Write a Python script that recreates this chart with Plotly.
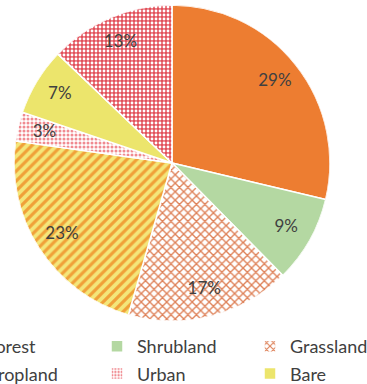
import plotly.graph_objects as go

categories = ["Forest", "Shrubland", "Grassland", "Cropland", "Urban", "Bare", "Water"]
shares = [29, 9, 17, 23, 3, 7, 13]
legend_column = ["legend", "legend2", "legend3", "legend", "legend2", "legend3", "legend"]

colors = ["#ED7D31", "#B4D8A2", "#FFFFFF", "#F4E67A", "#FFFFFF", "#ECE56C", "#E2505A"]
pat_shapes = ["", "", "x", "/", ".", "", "."]
pat_fg = ["#ED7D31", "#B4D8A2", "#DE8158", "#F0A038", "#F08A90", "#ECE56C", "#FFFFFF"]
pat_size = [8, 8, 6, 7, 4, 8, 4]
pat_sol = [0.3, 0.3, 0.4, 0.45, 0.45, 0.3, 0.4]

W, H = 367, 384
cx, cy, R = 172, 163, 158
dom_x = [(cx - R) / W, (cx + R) / W]
dom_y = [(H - cy - R) / H, (H - cy + R) / H]

total = sum(shares)
mids, widths, acc = [], [], 0
for v in shares:
    mids.append((acc + v / 2) / total * 360)
    widths.append(v / total * 360)
    acc += v

fig = go.Figure()
for i, name in enumerate(categories):
    fig.add_trace(go.Barpolar(
        name=name, r=[1], theta=[mids[i]], width=[widths[i]],
        legend=legend_column[i], legendgroup=name,
        marker=dict(color=colors[i], line=dict(color="white", width=1.5),
                    pattern=dict(shape=pat_shapes[i], fgcolor=pat_fg[i], bgcolor=colors[i],
                                 size=pat_size[i], solidity=pat_sol[i], fillmode="replace")),
        hovertemplate=f"{name}: {shares[i]}%<extra></extra>",
    ))

fig.add_trace(go.Scatterpolar(
    r=[0.83] * len(shares), theta=mids, mode="text",
    text=[f"{v}%" for v in shares],
    textfont=dict(family="Lato, sans-serif", size=17, color="#404040"),
    showlegend=False, hoverinfo="skip",
))

leg_common = dict(orientation="v", xanchor="left", y=0.146, yanchor="top",
                  font=dict(family="Lato, sans-serif", size=18, color="#404040"),
                  bgcolor="rgba(0,0,0,0)", traceorder="grouped", tracegroupgap=1)

fig.update_layout(
    width=W, height=H,
    margin=dict(l=0, r=0, t=0, b=0, autoexpand=False),
    paper_bgcolor="white", plot_bgcolor="white",
    polar=dict(domain=dict(x=dom_x, y=dom_y), bgcolor="rgba(0,0,0,0)", bargap=0, hole=0,
               radialaxis=dict(visible=False, range=[0, 1]),
               angularaxis=dict(visible=False, rotation=90, direction="clockwise")),
    legend=dict(x=-54 / W, **leg_common),
    legend2=dict(x=97 / W, **leg_common),
    legend3=dict(x=250 / W, **leg_common),
)

fig.write_html("out.html", config={"displayModeBar": False},
               post_script="document.body.style.margin='0';")
